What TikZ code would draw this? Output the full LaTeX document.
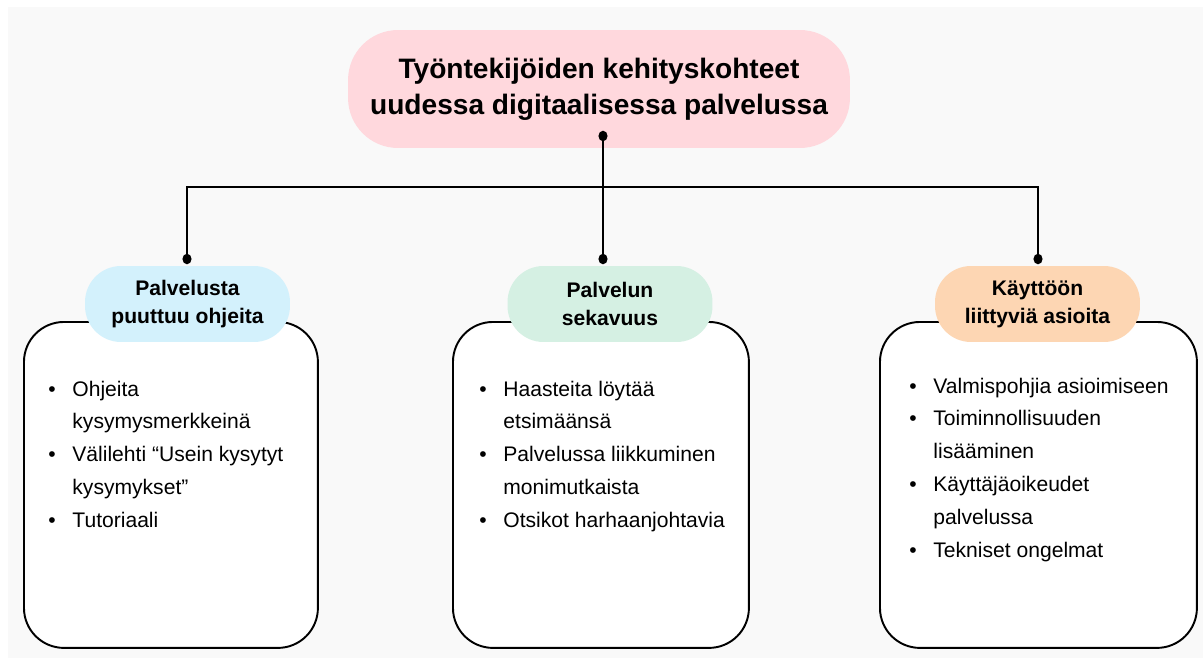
\documentclass[tikz,border=0pt]{standalone}
\usepackage{fontspec}
\setmainfont{Liberation Sans}
\definecolor{bgray}{RGB}{249,249,249}
\definecolor{tpink}{RGB}{255,216,221}
\definecolor{pblue}{RGB}{211,241,252}
\definecolor{pgreen}{RGB}{213,240,227}
\definecolor{porange}{RGB}{253,214,179}
\tikzset{
  otsikko/.style={fill=tpink, rounded corners=1cm, minimum width=10.04cm,
    minimum height=2.36cm, align=center, font=\fontsize{16}{20.4}\selectfont\bfseries},
  pilleri/.style={rounded corners=0.72cm, minimum width=4.1cm,
    minimum height=1.52cm, align=center, font=\fontsize{12}{15.9}\selectfont\bfseries},
  laatikko/.style={draw, line width=1.1pt, fill=white, rounded corners=0.8cm, anchor=north west},
  lista/.style={anchor=base west, inner sep=0pt, font=\fontsize{12}{18.7}\selectfont},
  yhteys/.style={line width=1.5pt},
  piste/.style={fill=black}
}
\begin{document}
\begin{tikzpicture}[x=0.02cm, y=-0.02cm]
  % Tausta
  \useasboundingbox (0,0) rectangle (1203,662);
  \fill[bgray] (8,7) rectangle (1203,658);

  % Otsikko
  \node[otsikko] (title) at (599,89) {Työntekijöiden kehityskohteet\\uudessa digitaalisessa palvelussa};

  % Laatikot
  \node[laatikko, minimum width=5.88cm, minimum height=6.52cm] (box1) at (23,321) {};
  \node[laatikko, minimum width=5.92cm, minimum height=6.52cm] (box2) at (452,321) {};
  \node[laatikko, minimum width=6.34cm, minimum height=6.52cm] (box3) at (879,321) {};

  % Pillerit
  \node[pilleri, fill=pblue] (head1) at (187.5,304) {Palvelusta\\puuttuu ohjeita};
  \node[pilleri, fill=pgreen] (head2) at (610,304) {Palvelun\\sekavuus};
  \node[pilleri, fill=porange] (head3) at (1037.5,304) {Käyttöön\\liittyviä asioita};

  % Listat
  \node[lista] (list1) at (48,396) {\begin{tabular}[t]{@{}l@{\hspace{9.5pt}}l@{}}
    \textbullet & Ohjeita\\ & kysymysmerkkeinä\\
    \textbullet & Välilehti “Usein kysytyt\\ & kysymykset”\\
    \textbullet & Tutoriaali
  \end{tabular}};
  \node[lista] (list2) at (479,396) {\begin{tabular}[t]{@{}l@{\hspace{9.5pt}}l@{}}
    \textbullet & Haasteita löytää\\ & etsimäänsä\\
    \textbullet & Palvelussa liikkuminen\\ & monimutkaista\\
    \textbullet & Otsikot harhaanjohtavia
  \end{tabular}};
  \node[lista] (list3) at (909,393) {\begin{tabular}[t]{@{}l@{\hspace{9.5pt}}l@{}}
    \textbullet & Valmispohjia asioimiseen\\
    \textbullet & Toiminnollisuuden\\ & lisääminen\\
    \textbullet & Käyttäjäoikeudet\\ & palvelussa\\
    \textbullet & Tekniset ongelmat
  \end{tabular}};

  % Yhteydet
  \coordinate (dot0) at (603,136);
  \coordinate (hub) at (603,187);
  \coordinate (dot1) at (187,259);
  \coordinate (dot2) at (603,259);
  \coordinate (dot3) at (1038,259);
  \draw[yhteys] (dot0) -- (dot2);
  \draw[yhteys] (dot1) |- (hub) -| (dot3);
  \foreach \p in {dot0,dot1,dot2,dot3} {
      \fill[piste] (\p) ellipse (2.6pt and 3pt);
  }
\end{tikzpicture}
\end{document}
